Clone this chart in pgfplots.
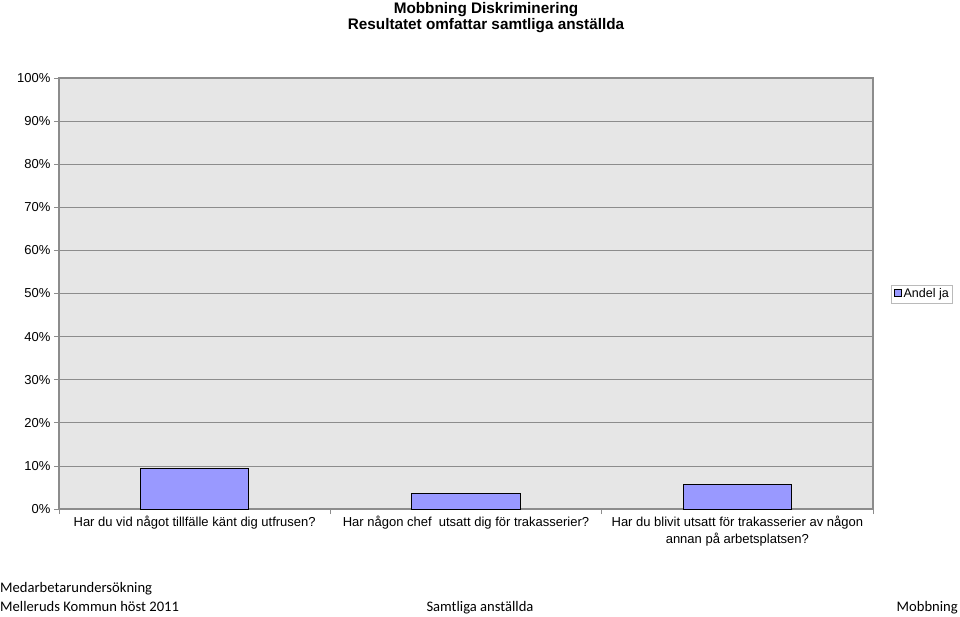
\documentclass[border=0pt]{standalone}
\usepackage{fontspec}
\setmainfont{Liberation Sans}
\newfontfamily\footfont{Carlito}
\usepackage{pgfplots}
\pgfplotsset{compat=1.18}
\definecolor{barfill}{HTML}{9999FF}
\definecolor{plotbg}{HTML}{E6E6E6}
\definecolor{gridc}{HTML}{8C8C8C}
\begin{document}
\begin{tikzpicture}
\useasboundingbox (0pt,0pt) rectangle (960pt,616pt);
\node[font=\fontsize{15.3}{18}\selectfont\bfseries] at (486pt,606pt) {Mobbning Diskriminering};
\node[font=\fontsize{15.3}{18}\selectfont\bfseries] at (486pt,590pt) {Resultatet omfattar samtliga anställda};
\begin{axis}[
  at={(59pt,107pt)}, anchor=south west,
  scale only axis, width=814pt, height=431pt,
  xmin=-0.5, xmax=2.5, ymin=0, ymax=100,
  axis background/.style={fill=plotbg},
  axis line style={gridc, line width=1.2pt},
  ytick={0,10,...,100},
  yticklabel={\pgfmathprintnumber{\tick}\%},
  /pgf/number format/assume math mode=true,
  ymajorgrids, grid style={gridc, line width=0.8pt},
  tick style={gridc, line width=0.8pt},
  tick align=outside,
  ytick pos=left, xtick pos=bottom,
  major tick length=5pt,
  y tick label style={font=\fontsize{13}{15}\selectfont},
  xtick={0,1,2},
  major x tick style={draw=none},
  minor xtick={-0.5,0.5,1.5,2.5},
  minor tick length=5pt,
  minor x tick style={gridc, line width=0.8pt},
  xticklabels={{Har du vid något tillfälle känt dig utfrusen?},{Har någon chef\ \ utsatt dig för trakasserier?},{Har du blivit utsatt för trakasserier av någon\\annan på arbetsplatsen?}},
  x tick label style={font=\fontsize{13}{17}\selectfont, align=center, anchor=north, yshift=2pt},
  ybar, bar width=0.4,
]
\addplot[fill=barfill, draw=black, line width=1pt] coordinates {(0,9.5) (1,3.7) (2,5.6)};
\end{axis}
\node[draw=gridc!60, fill=white, inner sep=3pt, anchor=east, font=\fontsize{12.5}{15}\selectfont] at (952pt,322pt) {\tikz[baseline=-0.6ex]\draw[fill=barfill, draw=black, line width=0.8pt] (0pt,-3.5pt) rectangle (7pt,3.5pt);\,Andel ja};
\node[font=\footfont\fontsize{14.6}{16}\selectfont, anchor=base west, inner sep=0pt] at (0pt,24pt) {Medarbetarundersökning};
\node[font=\footfont\fontsize{14.6}{16}\selectfont, anchor=base west, inner sep=0pt] at (0pt,5pt) {Melleruds Kommun höst 2011};
\node[font=\footfont\fontsize{14.6}{16}\selectfont, anchor=base, inner sep=0pt] at (480pt,5pt) {Samtliga anställda};
\node[font=\footfont\fontsize{14.6}{16}\selectfont, anchor=base east, inner sep=0pt] at (958pt,5pt) {Mobbning};
\end{tikzpicture}
\end{document}
